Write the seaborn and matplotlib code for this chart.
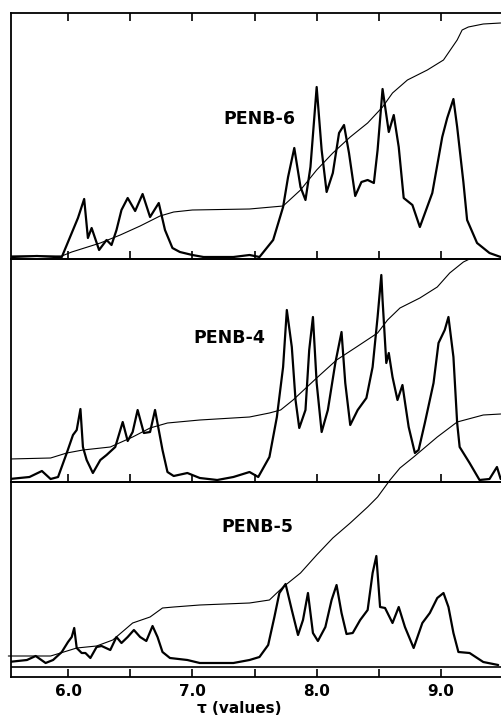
import numpy as np
import seaborn as sns
import matplotlib.pyplot as plt
from matplotlib.ticker import FixedLocator

sns.set_theme(style="ticks")
plt.rcParams['font.family'] = ['DejaVu Sans']
plt.rcParams['text.color'] = 'black'
plt.rcParams['xtick.color'] = 'black'
plt.rcParams['axes.labelcolor'] = 'black'

# chemical shift (tau) and intensity (arbitrary units)
# PENB-6
tau_6 = [5.55, 5.75, 5.90, 5.95, 6.03, 6.08, 6.13, 6.16, 6.19, 6.25, 6.31, 6.35, 6.39, 6.43,
         6.48, 6.54, 6.60, 6.66, 6.73, 6.78, 6.84, 6.90, 7.00, 7.09, 7.33, 7.46, 7.54, 7.65,
         7.73, 7.77, 7.82, 7.87, 7.91, 7.95, 8.00, 8.04, 8.08, 8.13, 8.18, 8.22, 8.26, 8.31,
         8.36, 8.41, 8.46, 8.49, 8.53, 8.58, 8.62, 8.66, 8.70, 8.77, 8.83, 8.93, 9.01, 9.05,
         9.10, 9.13, 9.18, 9.21, 9.29, 9.39, 9.48]
int_6 = [2, 3, 2, 2, 26, 41, 60, 21, 31, 9, 19, 14, 29, 49,
         61, 48, 65, 42, 56, 29, 11, 7, 4, 2, 2, 4, 2, 19,
         52, 82, 111, 72, 59, 92, 172, 109, 67, 86, 126, 134, 106, 63,
         77, 79, 76, 109, 170, 127, 144, 112, 61, 54, 32, 66, 122, 141,
         160, 132, 77, 39, 16, 6, 2]
itau_6 = [5.54, 5.95, 6.03, 6.26, 6.42, 6.58, 6.74, 6.85, 7.00, 7.46, 7.73, 7.87, 8.00, 8.13,
          8.27, 8.41, 8.53, 8.61, 8.73, 8.89, 9.02, 9.13, 9.17, 9.22, 9.34, 9.48]
integ_6 = [3, 3, 7, 16, 24, 33, 43, 47, 49, 50, 53, 69, 89, 106,
           122, 136, 152, 166, 179, 189, 199, 219, 229, 232, 235, 236]

# PENB-4
tau_4 = [5.53, 5.69, 5.79, 5.86, 5.92, 5.99, 6.04, 6.07, 6.10, 6.12, 6.15, 6.20, 6.26, 6.31,
         6.38, 6.44, 6.48, 6.52, 6.56, 6.61, 6.66, 6.70, 6.73, 6.76, 6.80, 6.85, 6.96, 7.06,
         7.20, 7.33, 7.46, 7.53, 7.62, 7.68, 7.73, 7.76, 7.80, 7.83, 7.86, 7.91, 7.94, 7.97,
         8.00, 8.04, 8.09, 8.15, 8.20, 8.23, 8.27, 8.33, 8.40, 8.45, 8.49, 8.52, 8.53, 8.56,
         8.58, 8.61, 8.65, 8.69, 8.71, 8.74, 8.79, 8.82, 8.87, 8.94, 8.98, 9.03, 9.06, 9.10,
         9.13, 9.15, 9.23, 9.31, 9.39, 9.45, 9.48]
int_4 = [3, 5, 11, 3, 5, 29, 47, 52, 73, 35, 22, 9, 22, 27,
         35, 60, 41, 50, 72, 49, 50, 72, 52, 32, 10, 6, 9, 4,
         2, 5, 10, 5, 25, 65, 115, 172, 135, 82, 54, 72, 132, 165,
         99, 50, 72, 119, 150, 99, 57, 72, 84, 115, 165, 207, 182, 119,
         129, 105, 82, 97, 80, 55, 29, 32, 59, 99, 139, 152, 165, 125,
         59, 35, 19, 2, 3, 15, 3]
itau_4 = [5.53, 5.86, 5.99, 6.12, 6.34, 6.52, 6.66, 6.80, 7.06, 7.46, 7.62, 7.71, 7.81, 8.00,
          8.16, 8.32, 8.49, 8.57, 8.67, 8.83, 8.97, 9.07, 9.18, 9.23, 9.30]
integ_4 = [23, 24, 29, 32, 35, 45, 54, 59, 62, 65, 69, 72, 82, 104,
           122, 135, 149, 162, 174, 184, 195, 209, 220, 223, 226]

# PENB-5
tau_5 = [5.52, 5.67, 5.74, 5.82, 5.88, 5.95, 6.00, 6.03, 6.05, 6.07, 6.11, 6.14, 6.18, 6.23,
         6.27, 6.34, 6.39, 6.43, 6.48, 6.53, 6.58, 6.63, 6.68, 6.72, 6.76, 6.82, 6.96, 7.06,
         7.33, 7.46, 7.54, 7.61, 7.66, 7.70, 7.75, 7.80, 7.85, 7.89, 7.93, 7.97, 8.01, 8.07,
         8.12, 8.16, 8.20, 8.24, 8.29, 8.35, 8.41, 8.45, 8.48, 8.51, 8.55, 8.61, 8.66, 8.71,
         8.73, 8.78, 8.85, 8.91, 8.97, 9.02, 9.06, 9.10, 9.14, 9.23, 9.34, 9.46]
int_5 = [5, 7, 11, 4, 7, 15, 25, 30, 39, 19, 14, 14, 9, 20,
         21, 17, 30, 24, 30, 37, 30, 26, 41, 30, 15, 9, 7, 4,
         4, 7, 10, 22, 50, 74, 83, 57, 32, 47, 74, 34, 26, 40,
         67, 82, 54, 33, 34, 47, 57, 94, 111, 60, 59, 44, 60, 40,
         34, 19, 44, 54, 69, 74, 60, 34, 15, 14, 5, 2]
itau_5 = [5.52, 5.86, 5.94, 6.07, 6.23, 6.36, 6.52, 6.66, 6.76, 6.85, 7.06, 7.46, 7.62, 7.73,
          7.87, 8.00, 8.13, 8.27, 8.41, 8.49, 8.59, 8.67, 8.78, 8.97, 9.13, 9.34, 9.48]
integ_5 = [11, 11, 14, 19, 21, 27, 44, 50, 59, 60, 62, 64, 67, 80,
           94, 112, 129, 144, 160, 170, 187, 199, 210, 230, 245, 252, 253]

names = ['PENB-6', 'PENB-4', 'PENB-5']

fig = plt.figure(figsize=(5.01, 7.2), dpi=100)
W, H = 501.0, 720.0
left = 11 / W
width = 1 - left
# (top px, bottom px) of each panel
boxes = [(13, 259), (259, 482), (482, 677)]
ylims = [(0, 246), (0, 223), (-10, 185)]
label_pos = [(259, 119), (229, 338), (257, 527)]
data = [(tau_6, int_6, itau_6, integ_6),
        (tau_4, int_4, itau_4, integ_4),
        (tau_5, int_5, itau_5, integ_5)]

for i, (top, bot) in enumerate(boxes):
    ax = fig.add_axes([left, 1 - bot / H, width, (bot - top) / H])
    ax.set_facecolor('none')
    x, y, ix, iy = data[i]
    sns.lineplot(x=x, y=y, ax=ax, color='black', lw=1.6, sort=False)
    l = sns.lineplot(x=ix, y=iy, ax=ax, color='black', lw=0.8, sort=False)
    if i == 2:
        # integral runs on up into the panel above
        l.lines[-1].set_clip_on(False)
        ax.axhline(0, color='black', lw=1.2)
    ax.set_xlim(5.5415, 9.4826)
    ax.set_ylim(*ylims[i])
    ax.set_yticks([])
    ax.spines['right'].set_visible(False)
    for s in ['left', 'top', 'bottom']:
        ax.spines[s].set_linewidth(1.3)
        ax.spines[s].set_color('black')
    ax.xaxis.set_major_locator(FixedLocator([6.0, 7.0, 8.0, 9.0]))
    ax.xaxis.set_minor_locator(FixedLocator([6.5, 7.5, 8.5]))
    ax.tick_params(axis='x', which='both', direction='in', length=6, width=1.2,
                   color='black', top=(i == 0), bottom=True)
    if i == 2:
        ax.set_xticklabels(['6.0', '7.0', '8.0', '9.0'], fontsize=11, fontweight='bold')
        ax.tick_params(axis='x', pad=5, labelcolor='black')
        ax.set_xlabel('τ (values)', fontsize=11, fontweight='bold', color='black')
        ax.xaxis.set_label_coords(0.465, -0.125)
    else:
        ax.set_xticklabels([])
    lx, ly = label_pos[i]
    fig.text(lx / W, 1 - ly / H, names[i], fontsize=12.5, fontweight='bold',
             ha='center', va='center', color='black')

plt.savefig('out.png', dpi=100)
